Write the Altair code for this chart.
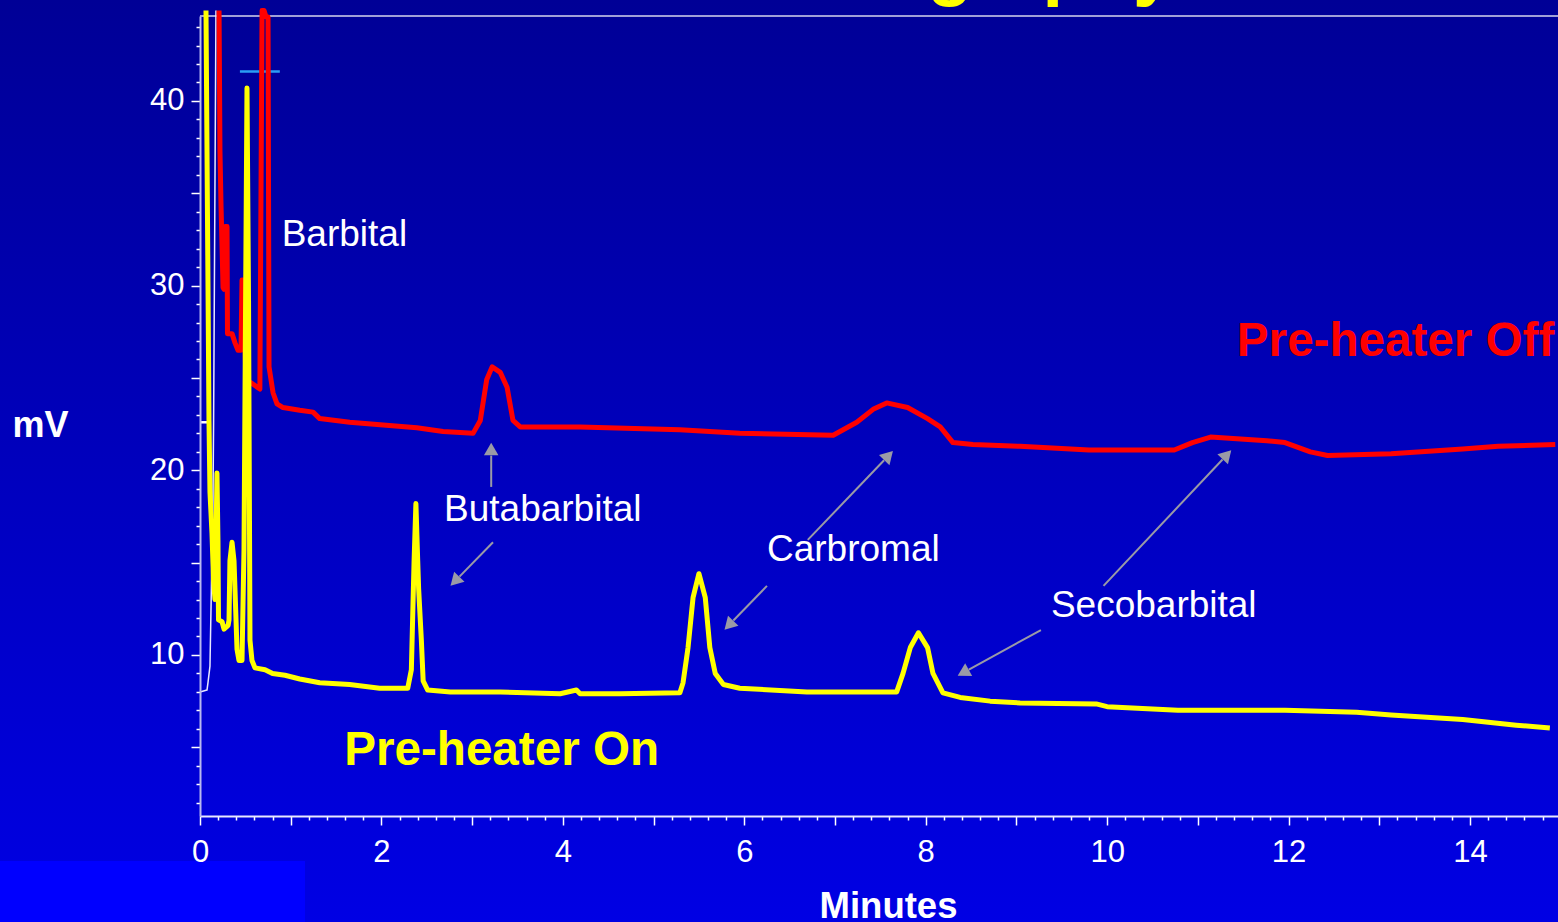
import math
import altair as alt
import pandas as pd

FONT = "Liberation Sans"

# ---------------- data (minutes, mV) ----------------
yellow_t = [0.066, 0.099, 0.11, 0.132, 0.149, 0.165, 0.176, 0.187, 0.198, 0.204, 0.243, 0.265, 0.287,
            0.31, 0.32, 0.33, 0.353, 0.375, 0.408, 0.43, 0.463, 0.485, 0.518, 0.535, 0.551, 0.573,
            0.606, 0.717, 0.80, 0.937, 1.10, 1.32, 1.65, 1.98, 2.29, 2.33, 2.36, 2.38, 2.40, 2.41,
            2.44, 2.46, 2.51, 2.76, 3.31, 3.97, 4.15, 4.19, 4.63, 5.29, 5.325, 5.38, 5.435, 5.50,
            5.57, 5.62, 5.68, 5.77, 5.95, 6.69, 7.68, 7.75, 7.83, 7.92, 8.02, 8.08, 8.19, 8.38,
            8.71, 9.04, 9.88, 10.0, 10.78, 11.96, 12.75, 13.13, 13.92, 14.51, 14.88]
yellow_mv = [44.9, 22.7, 18.8, 16.6, 14.1, 13.0, 16.0, 19.85, 16.2, 11.9, 11.8, 11.4, 11.5,
             11.6, 11.9, 15.1, 16.1, 15.1, 10.3, 9.7, 9.7, 15.7, 40.7, 29.2, 10.8, 9.7,
             9.3, 9.2, 9.0, 8.9, 8.7, 8.5, 8.4, 8.2, 8.2, 9.2, 15.1, 18.2, 15.1, 13.6,
             10.8, 8.6, 8.1, 8.0, 8.0, 7.9, 8.1, 7.9, 7.9, 7.95, 8.5, 10.4, 13.1, 14.4,
             13.1, 10.4, 9.0, 8.4, 8.2, 8.0, 8.0, 9.0, 10.4, 11.2, 10.4, 9.0, 7.95, 7.7,
             7.5, 7.4, 7.35, 7.2, 7.0, 7.0, 6.9, 6.75, 6.5, 6.2, 6.05]

red_t = [0.21, 0.22, 0.232, 0.254, 0.265, 0.276, 0.298, 0.303, 0.353, 0.386, 0.419, 0.452, 0.463,
         0.474, 0.507, 0.573, 0.66, 0.684, 0.706, 0.728, 0.75, 0.761, 0.805, 0.849, 0.915, 1.10,
         1.246, 1.32, 1.65, 2.02, 2.39, 2.68, 3.01, 3.09, 3.16, 3.22, 3.31, 3.385, 3.45, 3.53,
         4.19, 5.29, 5.95, 6.98, 7.24, 7.42, 7.57, 7.80, 8.02, 8.16, 8.30, 8.52, 9.04, 9.80,
         10.74, 10.94, 11.14, 11.76, 11.96, 12.24, 12.43, 13.13, 13.92, 14.31, 14.94]
red_mv = [44.9, 37.3, 34.3, 29.9, 29.8, 33.2, 33.2, 27.4, 27.4, 26.9, 26.5, 26.5, 30.3,
          30.3, 24.9, 24.7, 24.4, 44.9, 44.9, 44.55, 44.55, 25.6, 24.2, 23.6, 23.4, 23.25,
          23.15, 22.8, 22.6, 22.45, 22.3, 22.1, 22.0, 22.7, 24.9, 25.6, 25.3, 24.5, 22.7, 22.35,
          22.35, 22.2, 22.0, 21.9, 22.6, 23.3, 23.65, 23.4, 22.8, 22.35, 21.5, 21.4, 21.3, 21.1,
          21.1, 21.5, 21.8, 21.6, 21.5, 21.0, 20.8, 20.9, 21.15, 21.3, 21.4]

white_t = [0.0, 0.077, 0.088, 0.11, 0.143, 0.15, 0.176]
white_mv = [8.0, 8.1, 8.5, 9.4, 18.4, 22.7, 44.9]

# short reference marks drawn on the trace area
marker_t = [0.0, 0.44]
marker_t2 = [0.11, 0.88]
marker_mv = [22.6, 41.6]
marker_color = ["#ffffff", "#2a9df4"]

# peak labels
label_text = ["Barbital", "Butabarbital", "Carbromal", "Secobarbital"]
label_t = [0.90, 2.69, 6.25, 9.38]
label_mv = [32.75, 17.85, 15.7, 12.65]

# series labels
series_text = ["Pre-heater Off", "Pre-heater On"]
series_t = [11.43, 1.59]
series_mv = [26.95, 4.8]
series_color = ["#ff0000", "#ffff00"]

# arrows: start (t, mV) -> tip (t, mV)
arrow_t1 = [3.21, 3.23, 6.70, 6.25, 9.96, 9.27]
arrow_mv1 = [19.1, 16.1, 16.23, 13.74, 13.74, 11.35]
arrow_t2 = [3.21, 2.76, 7.64, 5.78, 11.37, 8.35]
arrow_mv2 = [21.5, 13.74, 21.05, 11.36, 21.1, 8.87]

x_major_labels = [0, 2, 4, 6, 8, 10, 12, 14]
y_major_labels = [10, 20, 30, 40]

# ---------------- geometry ----------------
W, H = 1358, 800
X_DOM = [0, 14.97]
Y_DOM = [1.28, 44.6]
PX_T = W / (X_DOM[1] - X_DOM[0])
PX_V = H / (Y_DOM[1] - Y_DOM[0])

xs = alt.Scale(domain=X_DOM, nice=False, zero=False)
ys = alt.Scale(domain=Y_DOM, nice=False, zero=False)

x_ticks = [round(i * 0.2, 1) for i in range(0, 75)]
y_ticks = list(range(2, 45))

x_axis = alt.Axis(
    values=x_ticks, tickCount=500, tickMinStep=0.1,
    labelExpr="indexof(" + str(x_major_labels) + ", datum.value) >= 0 ? format(datum.value, 'd') : ''",
    tickSize={"condition": {"test": "abs(datum.value - round(datum.value)) < 0.01", "value": 9}, "value": 4},
    tickColor="white", tickWidth=1.5,
    domainColor="#e8e8ff", domainWidth=2,
    labelColor="white", labelFont=FONT, labelFontSize=31, labelPadding=12,
    labelOverlap=False, labelFlush=False, labelBound=False,
    title="Minutes", titleFont=FONT, titleFontSize=36.5, titleFontWeight="bold", titleColor="white",
    titleX=688, titleY=72, titleBaseline="top", titleAlign="center",
    grid=False, zindex=1,
)
y_axis = alt.Axis(
    values=y_ticks, tickCount=500,
    labelExpr="indexof(" + str(y_major_labels) + ", datum.value) >= 0 ? datum.label : ''",
    format="d",
    tickSize={"condition": {"test": "datum.value % 5 == 0", "value": 9}, "value": 4},
    tickColor="white", tickWidth=1.5,
    domainColor="#b8b8f0", domainWidth=2,
    labelColor="white", labelFont=FONT, labelFontSize=31, labelPadding=7,
    labelOverlap=False, labelFlush=False, labelBound=False,
    title="mV", titleFont=FONT, titleFontSize=36, titleFontWeight="bold", titleColor="white",
    titleAngle=0, titleX=-160, titleY=409, titleAlign="center", titleBaseline="middle",
    grid=False, zindex=1,
)

one = pd.DataFrame({"k": [0]})

bg = alt.Chart(one).mark_rect(
    color=alt.LinearGradient(
        gradient="linear",
        stops=[alt.GradientStop(color="#000096", offset=0),
               alt.GradientStop(color="#0000bd", offset=0.5),
               alt.GradientStop(color="#0000e4", offset=1)],
        x1=0, x2=0, y1=0, y2=1),
).encode(x=alt.value(-200), x2=alt.value(W), y=alt.value(-16), y2=alt.value(H + 106))

corner = alt.Chart(one).mark_rect(color="#0000ff").encode(
    x=alt.value(-200), x2=alt.value(105), y=alt.value(845), y2=alt.value(H + 106))

title_txt = alt.Chart(one).mark_text(
    text="Chromatography", font=FONT, fontSize=74, fontWeight="bold", color="#ffff00",
    align="left", baseline="alphabetic",
).encode(x=alt.value(378), y=alt.value(-24.5))

frame_top = alt.Chart(one).mark_rule(color="#a0a0d8", strokeWidth=2).encode(
    x=alt.value(0), x2=alt.value(W), y=alt.value(0))

def trace(t, v, color, width):
    df = pd.DataFrame({"t": t, "mv": v})
    return alt.Chart(df).mark_line(color=color, strokeWidth=width, clip=False,
                                   strokeJoin="round").encode(
        x=alt.X("t:Q", scale=xs, axis=x_axis),
        y=alt.Y("mv:Q", scale=ys, axis=y_axis),
    )

white_line = trace(white_t, white_mv, "#e8e8ff", 1.5)
red_line = trace(red_t, red_mv, "#ff0000", 5)
yellow_line = trace(yellow_t, yellow_mv, "#ffff00", 5)

markers = alt.Chart(pd.DataFrame({"t": marker_t, "t2": marker_t2, "mv": marker_mv,
                                  "c": marker_color})).mark_rule(strokeWidth=2.5).encode(
    x=alt.X("t:Q", scale=xs), x2="t2:Q", y=alt.Y("mv:Q", scale=ys),
    color=alt.Color("c:N", scale=None))

arrows_df = pd.DataFrame({"t1": arrow_t1, "v1": arrow_mv1, "t2": arrow_t2, "v2": arrow_mv2})
dxs = [(b - a) * PX_T for a, b in zip(arrow_t1, arrow_t2)]
dys = [-(b - a) * PX_V for a, b in zip(arrow_mv1, arrow_mv2)]
lens = [math.hypot(dx, dy) for dx, dy in zip(dxs, dys)]
arrows_df["ang"] = [(math.degrees(math.atan2(dx, -dy)) + 360) % 360 for dx, dy in zip(dxs, dys)]
back = 6.5
arrows_df["ht"] = [t2 - back * dx / L / PX_T for t2, dx, L in zip(arrow_t2, dxs, lens)]
arrows_df["hv"] = [v2 + back * dy / L / PX_V for v2, dy, L in zip(arrow_mv2, dys, lens)]
arrows_df["lt"] = [t2 - 2 * back * dx / L / PX_T for t2, dx, L in zip(arrow_t2, dxs, lens)]
arrows_df["lv"] = [v2 + 2 * back * dy / L / PX_V for v2, dy, L in zip(arrow_mv2, dys, lens)]

arrow_lines = alt.Chart(arrows_df).mark_rule(color="#9a9aa6", strokeWidth=2).encode(
    x=alt.X("t1:Q", scale=xs), y=alt.Y("v1:Q", scale=ys), x2="lt:Q", y2="lv:Q")
arrow_heads = alt.Chart(arrows_df).mark_point(shape="triangle-up", filled=True, size=210,
                                              color="#9a9aa6", opacity=1).encode(
    x=alt.X("ht:Q", scale=xs), y=alt.Y("hv:Q", scale=ys),
    angle=alt.Angle("ang:Q", scale=None))

labels = alt.Chart(pd.DataFrame({"txt": label_text, "t": label_t, "mv": label_mv})).mark_text(
    font=FONT, fontSize=37, color="white", align="left", baseline="middle").encode(
    x=alt.X("t:Q", scale=xs), y=alt.Y("mv:Q", scale=ys), text="txt:N")

series_labels = alt.Chart(pd.DataFrame({"txt": series_text, "t": series_t, "mv": series_mv,
                                        "c": series_color})).mark_text(
    font=FONT, fontSize=47.6, fontWeight="bold", align="left", baseline="middle").encode(
    x=alt.X("t:Q", scale=xs), y=alt.Y("mv:Q", scale=ys), text="txt:N",
    color=alt.Color("c:N", scale=None))

chart = alt.layer(
    bg, corner, title_txt, frame_top, white_line, markers, red_line, yellow_line,
    arrow_lines, arrow_heads, labels, series_labels,
).properties(
    width=W, height=H,
    autosize=alt.AutoSizeParams(type="none"),
    padding={"left": 200, "top": 16, "right": 0, "bottom": 106},
    background="#0000c0",
).configure_view(strokeWidth=0)

chart.save("out.html", embed_options={"renderer": "svg", "actions": False})
